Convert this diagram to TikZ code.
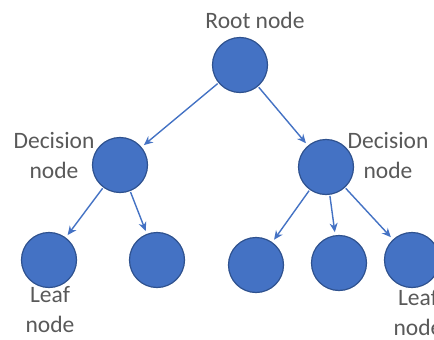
\documentclass[tikz,border=0pt]{standalone}
\usepackage{fontspec}
\setmainfont{Carlito}
\usetikzlibrary{arrows.meta}
\definecolor{nodeblue}{HTML}{4472C4}
\definecolor{nodeedge}{HTML}{2F528F}
\definecolor{labelgray}{HTML}{595959}
\begin{document}
\begin{tikzpicture}[x=1pt,y=-1pt,
  tnode/.style={circle,fill=nodeblue,draw=nodeedge,line width=1.2pt,minimum size=55pt,inner sep=0pt},
  lbl/.style={text=labelgray,font=\fontsize{23.5}{30}\selectfont,align=center,inner sep=0pt},
  conn/.style={draw=nodeblue,line width=1.4pt,-{Stealth[length=9pt,width=8pt]},shorten >=3pt,shorten <=1pt}]
\clip (0,0) rectangle (434,340);
\fill[white] (0,0) rectangle (434,340);
\node[tnode] (root) at (240,65) {};
\node[tnode] (dl) at (120,165) {};
\node[tnode] (dr) at (326,167) {};
\node[tnode] (l1) at (49,260) {};
\node[tnode] (l2) at (157,260) {};
\node[tnode] (l3) at (256,265) {};
\node[tnode] (l4) at (339,263) {};
\node[tnode] (l5) at (412,260) {};
\node[lbl] (troot) at (255,20) {Root node};
\node[lbl] (tdl) at (54,155) {Decision\\node};
\node[lbl] (tdr) at (388,155) {Decision\\node};
\node[lbl] (tl1) at (50,310) {Leaf\\node};
\node[lbl] (tl5) at (418,313) {Leaf\\node};
\draw[conn] (root) -- (dl);
\draw[conn] (root) -- (dr);
\draw[conn] (dl) -- (l1);
\draw[conn] (dl) -- (l2);
\draw[conn] (dr) -- (l3);
\draw[conn] (dr) -- (l4);
\draw[conn] (dr) -- (l5);
\end{tikzpicture}
\end{document}
